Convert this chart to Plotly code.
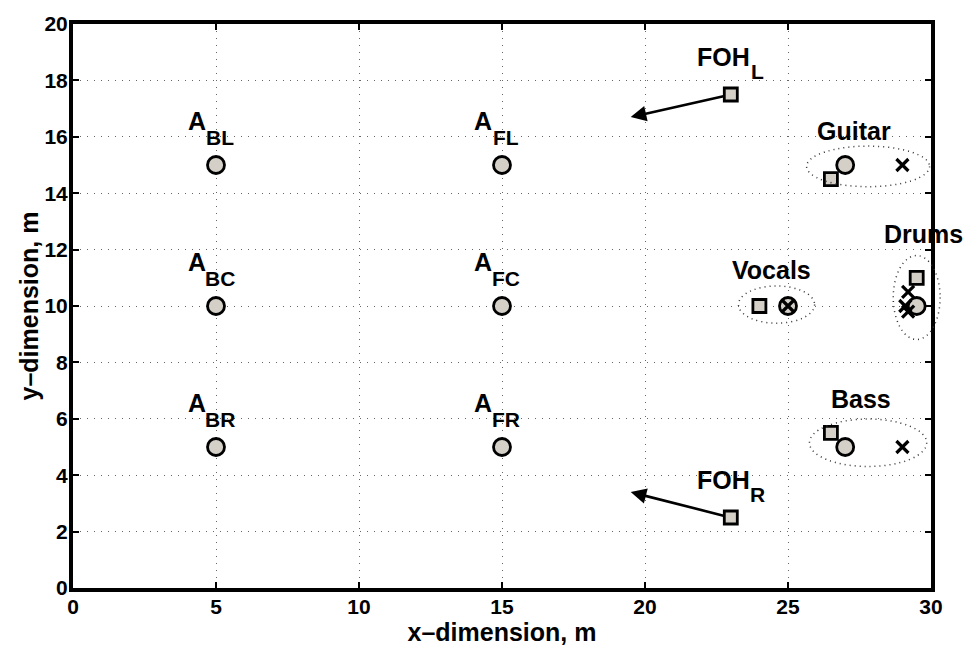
import plotly.graph_objects as go

# Audience measurement positions (front / back rows, left / centre / right)
aud_x = [5, 5, 5, 15, 15, 15]
aud_y = [15, 10, 5, 15, 10, 5]
aud_names = ["BL", "BC", "BR", "FL", "FC", "FR"]

# Front-of-house loudspeakers and their aiming points
foh_x = [23, 23]
foh_y = [17.5, 2.5]
foh_aim_x = [19.5, 19.5]
foh_aim_y = [16.7, 3.4]
foh_names = ["L", "R"]

# Stage sources: loudspeaker (square), microphone / source (circle), backline (cross)
src_names = ["Guitar", "Vocals", "Drums", "Bass"]
spk_x = [26.5, 24.0, 29.5, 26.5]
spk_y = [14.5, 10.0, 11.0, 5.5]
mic_x = [27.0, 25.0, 29.5, 27.0]
mic_y = [15.0, 10.0, 10.0, 5.0]
amp_x = [29.0, 25.0, 29.2, 29.1, 29.2, 29.0]
amp_y = [15.0, 10.0, 10.5, 10.0, 9.8, 5.0]

# Source regions (centre and semi-axes)
reg_cx = [27.8, 24.6, 29.5, 27.8]
reg_cy = [14.95, 10.05, 10.3, 5.15]
reg_rx = [2.15, 1.33, 0.82, 2.05]
reg_ry = [0.72, 0.66, 1.49, 0.84]

X_RANGE = [0, 30]
Y_RANGE = [0, 20]
x_ticks = [0, 5, 10, 15, 20, 25, 30]
y_ticks = [0, 2, 4, 6, 8, 10, 12, 14, 16, 18, 20]

FILL = "#d4d0c8"
FONT = "Liberation Sans"

fig = go.Figure()

# source regions as dotted ellipses (paper coordinates so they are not clipped)
for cx, cy, rx, ry in zip(reg_cx, reg_cy, reg_rx, reg_ry):
    fig.add_shape(
        type="circle", xref="paper", yref="paper",
        x0=(cx - rx) / X_RANGE[1], x1=(cx + rx) / X_RANGE[1],
        y0=(cy - ry) / Y_RANGE[1], y1=(cy + ry) / Y_RANGE[1],
        line=dict(color="#333", width=1.5, dash="1px,4px"), layer="above",
    )

# FOH aiming arrows
for x0, y0, x1, y1 in zip(foh_x, foh_y, foh_aim_x, foh_aim_y):
    fig.add_annotation(
        x=x1, y=y1, ax=x0, ay=y0, xref="x", yref="y", axref="x", ayref="y",
        showarrow=True, arrowhead=2, arrowsize=1.2, arrowwidth=2.6,
        arrowcolor="black", text="", standoff=0, startstandoff=6,
    )

marker_line = dict(color="black", width=2.8)
fig.add_trace(go.Scatter(
    x=aud_x, y=aud_y, mode="markers", cliponaxis=False,
    marker=dict(symbol="circle", size=17, color=FILL, line=marker_line),
))
fig.add_trace(go.Scatter(
    x=foh_x, y=foh_y, mode="markers", cliponaxis=False,
    marker=dict(symbol="square", size=13, color=FILL, line=marker_line),
))
fig.add_trace(go.Scatter(
    x=spk_x, y=spk_y, mode="markers", cliponaxis=False,
    marker=dict(symbol="square", size=13, color=FILL, line=marker_line),
))
fig.add_trace(go.Scatter(
    x=mic_x, y=mic_y, mode="markers", cliponaxis=False,
    marker=dict(symbol="circle", size=17, color=FILL, line=marker_line),
))
fig.add_trace(go.Scatter(
    x=amp_x, y=amp_y, mode="markers", cliponaxis=False,
    marker=dict(symbol="x-thin", size=12, color="black", line=dict(color="black", width=3.2)),
))

main_font = dict(family=FONT, size=25, color="black", weight="bold")
sub_font = dict(family=FONT, size=21, color="black", weight="bold")


def sub_label(x, y, main, sub, main_off, sub_off):
    """Main text with a lowered subscript, offsets given in pixels from (x, y)."""
    fig.add_annotation(x=x, y=y, xref="x", yref="y", showarrow=False,
                       text=f"<b>{main}</b>", font=main_font,
                       xshift=main_off[0], yshift=main_off[1])
    fig.add_annotation(x=x, y=y, xref="x", yref="y", showarrow=False,
                       text=f"<b>{sub}</b>", font=sub_font,
                       xshift=sub_off[0], yshift=sub_off[1])


for x, y, n in zip(aud_x, aud_y, aud_names):
    sub_label(x, y, "A", n, (-19, 44), (4, 28))

for x, y, n in zip(foh_x, foh_y, foh_names):
    sub_label(x, y, "FOH", n, (-7, 38), (27, 23))

src_lab_x = [27.3, 24.43, 29.75, 27.55]
src_lab_y = [16.15, 11.19, 12.47, 6.64]
for x, y, n in zip(src_lab_x, src_lab_y, src_names):
    fig.add_annotation(x=x, y=y, xref="x", yref="y", showarrow=False,
                       text=f"<b>{n}</b>", font=main_font, yshift=2)

axis_common = dict(
    showline=True, linecolor="black", linewidth=4, mirror="ticks",
    ticks="inside", ticklen=6, tickwidth=1.5, tickcolor="black",
    showgrid=True, gridcolor="#666", gridwidth=1.2, griddash="1px,6px",
    zeroline=False, tickfont=dict(family=FONT, size=21, color="black", weight="bold"),
)
title_font = dict(family=FONT, size=25, color="black", weight="bold")

fig.update_xaxes(range=X_RANGE, tickvals=x_ticks,
                 ticktext=[f"<b>{v}</b>" for v in x_ticks], ticklabelstandoff=-3,
                 title=dict(text="<b>x\u2013dimension, m</b>", standoff=0, font=title_font),
                 **axis_common)
fig.update_yaxes(range=Y_RANGE, tickvals=y_ticks,
                 ticktext=[f"<b>{v}</b>" for v in y_ticks], ticklabelstandoff=-3,
                 title=dict(text="<b>y\u2013dimension, m</b>", standoff=0, font=title_font),
                 **axis_common)

fig.update_layout(
    width=970, height=648, showlegend=False,
    plot_bgcolor="white", paper_bgcolor="white",
    margin=dict(l=73, r=39, t=17, b=59),
)

fig.write_html("out.html")
